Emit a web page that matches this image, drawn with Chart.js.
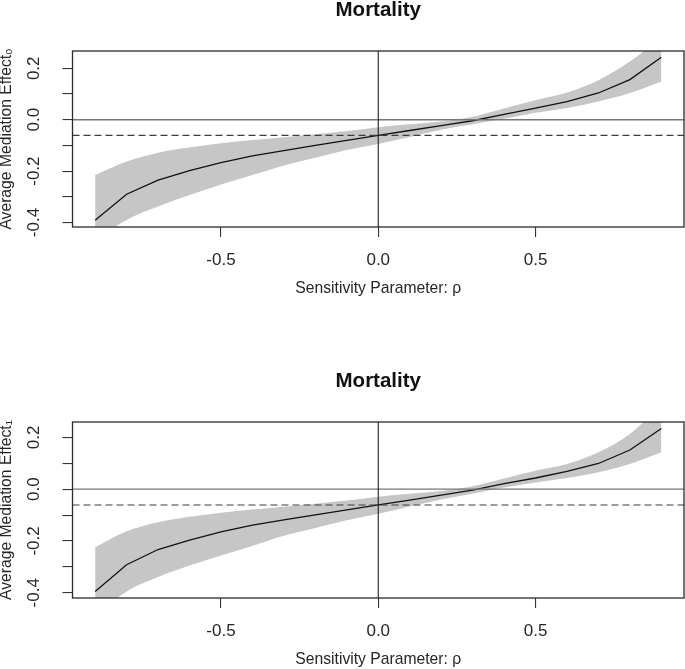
<!DOCTYPE html>
<html>
<head>
<meta charset="utf-8">
<script src="https://cdn.jsdelivr.net/npm/chart.js@4.4.1/dist/chart.umd.min.js"></script>
<style>
  html, body { margin: 0; padding: 0; background: #fff; }
  .panel { position: absolute; left: 0; width: 685px; height: 298px; }
  #p0 { top: 0px; }
  #p1 { top: 371px; }
</style>
</head>
<body>
<div class="panel" id="p0"><canvas id="c0"></canvas></div>
<div class="panel" id="p1"><canvas id="c1"></canvas></div>
<script>
// ---- data ----
const RHO    = [-0.9, -0.8, -0.7, -0.6, -0.5, -0.4, -0.3, -0.2, -0.1, 0.0, 0.1, 0.2, 0.3, 0.4, 0.5, 0.6, 0.7, 0.8, 0.9];

const EST0   = [-0.391, -0.290, -0.235, -0.198, -0.167, -0.141, -0.120, -0.100, -0.080, -0.061, -0.042, -0.023, -0.004, 0.021, 0.045, 0.070, 0.104, 0.156, 0.243];
const UPPER0 = [-0.215, -0.163, -0.128, -0.108, -0.092, -0.079, -0.068, -0.057, -0.044, -0.029, -0.018, -0.007, 0.012, 0.044, 0.076, 0.106, 0.154, 0.226, 0.321];
const LOWER0 = [-0.470, -0.390, -0.338, -0.293, -0.252, -0.215, -0.178, -0.148, -0.118, -0.094, -0.067, -0.039, -0.018, 0.004, 0.027, 0.046, 0.071, 0.104, 0.149];

const EST1   = [-0.395, -0.292, -0.233, -0.197, -0.165, -0.139, -0.119, -0.099, -0.080, -0.061, -0.042, -0.023, -0.004, 0.021, 0.043, 0.069, 0.099, 0.151, 0.234];
const UPPER1 = [-0.224, -0.163, -0.128, -0.107, -0.091, -0.079, -0.068, -0.056, -0.044, -0.029, -0.018, -0.007, 0.011, 0.041, 0.071, 0.097, 0.142, 0.213, 0.325];
const LOWER1 = [-0.490, -0.395, -0.339, -0.295, -0.256, -0.219, -0.180, -0.150, -0.120, -0.095, -0.067, -0.040, -0.018, 0.006, 0.026, 0.043, 0.065, 0.097, 0.142];

const ACME0 = -0.061;
const ACME1 = -0.061;

const X_TICKS = [-0.5, 0.0, 0.5];
const X_TICK_LABELS = ['-0.5', '0.0', '0.5'];
const Y_TICKS = [-0.4, -0.3, -0.2, -0.1, 0.0, 0.1, 0.2];
const Y_TICK_LABELS = ['-0.4', '', '-0.2', '', '0.0', '', '0.2'];

const X_RANGE = [-0.972, 0.972];
const Y_RANGE0 = [-0.4173, 0.2673];
const Y_RANGE1 = [-0.4202, 0.2592];

const TITLE = 'Mortality';
const X_LABEL = 'Sensitivity Parameter: \u03C1';
const Y_LABEL0 = 'Average Mediation Effect\u2080';
const Y_LABEL1 = 'Average Mediation Effect\u2081';

// ---- chart construction ----
const FONT = "'Liberation Sans', Arial, Helvetica, sans-serif";
const INK = '#262626';

const boxPlugin = {
  id: 'plotBox',
  afterDatasetsDraw(chart) {
    const a = chart.chartArea, ctx = chart.ctx;
    ctx.save();
    ctx.strokeStyle = '#2a2a2a';
    ctx.lineWidth = 1.3;
    ctx.strokeRect(a.left, a.top, a.right - a.left, a.bottom - a.top);
    ctx.restore();
  }
};

function pts(xs, ys) { return xs.map((x, i) => ({ x: x, y: ys[i] })); }

function makeChart(id, est, upper, lower, acme, yRange, yLabel) {
  const ctx = document.getElementById(id);
  return new Chart(ctx, {
    type: 'line',
    data: {
      datasets: [
        { // lower edge of band
          data: pts(RHO, lower), borderWidth: 0, pointRadius: 0, fill: false,
          cubicInterpolationMode: 'monotone', order: 10, borderColor: 'rgba(0,0,0,0)'
        },
        { // upper edge of band, filled to lower
          data: pts(RHO, upper), borderWidth: 0, pointRadius: 0, fill: '-1',
          backgroundColor: '#c6c6c6', borderColor: 'rgba(0,0,0,0)',
          cubicInterpolationMode: 'monotone', order: 9
        },
        { // point estimate
          data: pts(RHO, est), borderColor: '#111', borderWidth: 1.3, pointRadius: 0,
          fill: false, tension: 0, order: 5
        },
        { // horizontal zero line
          data: [{ x: X_RANGE[0], y: 0 }, { x: X_RANGE[1], y: 0 }],
          borderColor: '#767676', borderWidth: 1.4, pointRadius: 0, fill: false, order: 4
        },
        { // vertical zero line
          data: [{ x: 0, y: yRange[0] }, { x: 0, y: yRange[1] }],
          borderColor: '#1e1e1e', borderWidth: 1.1, pointRadius: 0, fill: false, order: 3
        },
        { // dashed ACME at rho = 0
          data: [{ x: X_RANGE[0], y: acme }, { x: X_RANGE[1], y: acme }],
          borderColor: '#3c3c3c', borderWidth: 1.1, borderDash: [7, 4], pointRadius: 0, fill: false, order: 2
        }
      ]
    },
    options: {
      responsive: true,
      maintainAspectRatio: false,
      animation: false,
      layout: { padding: { left: 0, right: 1, top: 0, bottom: 0 } },
      plugins: { legend: { display: false }, tooltip: { enabled: false }, title: { display: false } },
      scales: {
        x: {
          type: 'linear', position: 'bottom', min: X_RANGE[0], max: X_RANGE[1],
          afterBuildTicks: s => { s.ticks = X_TICKS.map(v => ({ value: v })); },
          ticks: {
            autoSkip: false, maxRotation: 0, minRotation: 0, padding: 13.3, color: INK,
            font: { family: FONT, size: 17 },
            callback: (v, i) => X_TICK_LABELS[i]
          },
          grid: { drawOnChartArea: false, drawTicks: true, tickLength: 10, color: '#333', lineWidth: 1.1 },
          border: { display: false },
          title: {
            display: true, text: X_LABEL, color: INK,
            font: { family: FONT, size: 15.7, lineHeight: 1.2 }, padding: { top: 0, bottom: 0 }
          },
          afterFit: s => { s.height = 71; }
        },
        xt: {
          type: 'linear', position: 'top', min: X_RANGE[0], max: X_RANGE[1],
          ticks: { display: false },
          grid: { display: false, drawTicks: false },
          border: { display: false },
          title: {
            display: true, text: TITLE, color: '#111',
            font: { family: FONT, size: 20.5, weight: 'bold', lineHeight: 0.85 }, padding: { top: 1.5, bottom: 0 }
          },
          afterFit: s => { s.height = 51; }
        },
        y: {
          type: 'linear', position: 'left', min: yRange[0], max: yRange[1],
          afterBuildTicks: s => { s.ticks = Y_TICKS.map(v => ({ value: v })); },
          ticks: {
            autoSkip: false, minRotation: 90, maxRotation: 90, crossAlign: 'center',
            padding: 13.35, color: INK, font: { family: FONT, size: 17 },
            callback: (v, i) => Y_TICK_LABELS[i]
          },
          grid: { drawOnChartArea: false, drawTicks: true, tickLength: 10, color: '#333', lineWidth: 1.1 },
          border: { display: false },
          title: {
            display: true, text: yLabel, color: INK,
            font: { family: FONT, size: 15.7, lineHeight: 0.9 }, padding: { top: 0, bottom: 0 }
          },
          afterFit: s => { s.width = 72.5; }
        }
      }
    },
    plugins: [boxPlugin]
  });
}

makeChart('c0', EST0, UPPER0, LOWER0, ACME0, Y_RANGE0, Y_LABEL0);
makeChart('c1', EST1, UPPER1, LOWER1, ACME1, Y_RANGE1, Y_LABEL1);
</script>
</body>
</html>
